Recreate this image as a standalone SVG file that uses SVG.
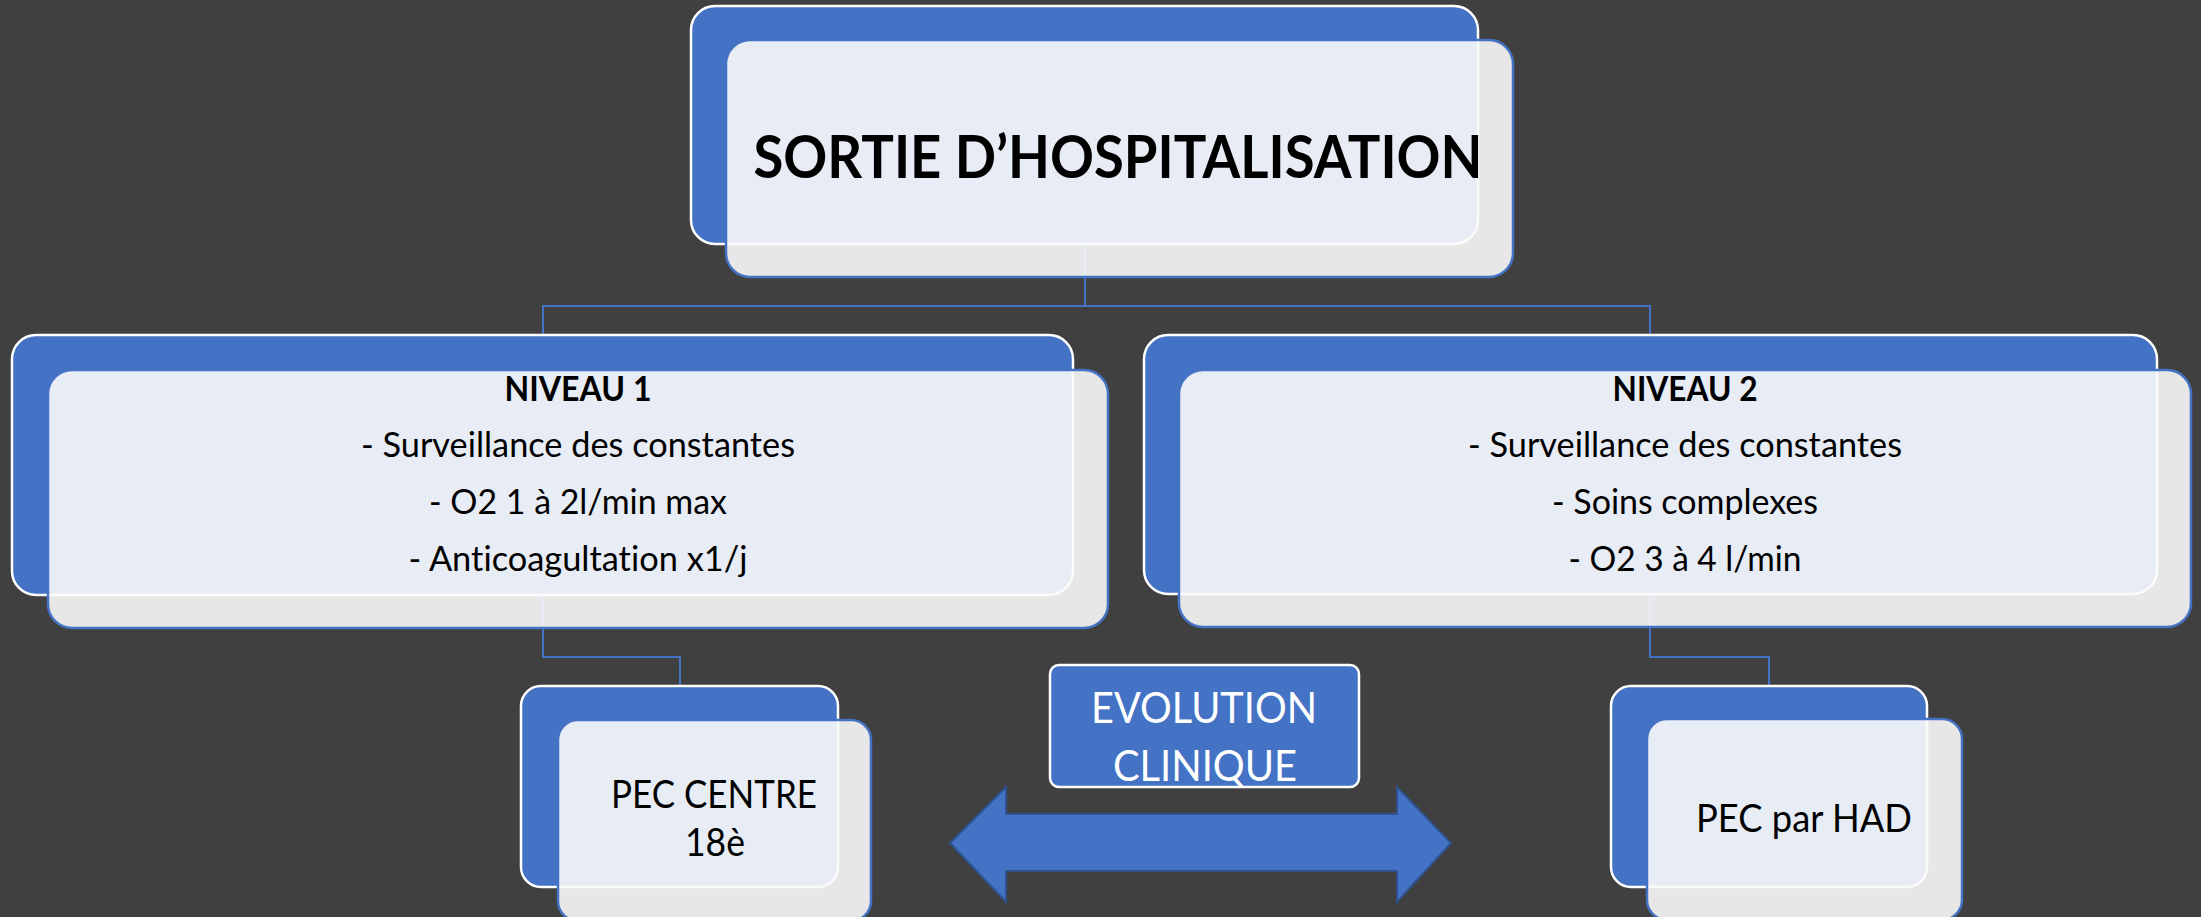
<svg xmlns="http://www.w3.org/2000/svg" width="2201" height="917" viewBox="0 0 2201 917">
  <style>
    .bg { fill: #404040; }
    .back { fill: #4472C4; stroke: #FFFFFF; stroke-width: 2.5; }
    .front { fill: #FBFBFB; fill-opacity: 0.895; stroke: #4472C4; stroke-width: 2.5; }
    .conn { fill: none; stroke: #4472C4; stroke-width: 2; }
    .t { font-family: Lato, "Liberation Sans", sans-serif; fill: #000000; text-anchor: middle; font-variant-ligatures: none; }
    .b { font-weight: bold; }
    .w { fill: #FFFFFF; }
  </style>
  <rect class="bg" x="0" y="0" width="2201" height="917"/>

  <g id="connectors">
    <path class="conn" d="M1085 244 V306 H543 V335"/>
    <path class="conn" d="M1085 306 H1650 V335"/>
    <path class="conn" d="M543 595 V657 H680 V686"/>
    <path class="conn" d="M1650 594 V657 H1769 V686"/>
  </g>

  <g id="node-sortie">
    <rect class="back" x="691" y="6" width="787" height="238" rx="24"/>
    <rect class="front" x="726" y="40" width="787" height="237" rx="24"/>
    <text class="t b" x="1118" y="178" font-size="60" textLength="729" lengthAdjust="spacingAndGlyphs">SORTIE D’HOSPITALISATION</text>
  </g>

  <g id="node-niveau1">
    <rect class="back" x="12" y="335" width="1061" height="260" rx="24"/>
    <rect class="front" x="48" y="370" width="1060" height="258" rx="24"/>
    <text class="t b" x="578" y="401" font-size="34" textLength="147" lengthAdjust="spacingAndGlyphs">NIVEAU 1</text>
    <text class="t" x="578" y="457" font-size="34" textLength="434" lengthAdjust="spacingAndGlyphs">- Surveillance des constantes</text>
    <text class="t" x="578" y="514" font-size="34" textLength="298" lengthAdjust="spacingAndGlyphs">- O2 1 à 2l/min max</text>
    <text class="t" x="578" y="571" font-size="34" textLength="339" lengthAdjust="spacingAndGlyphs">- Anticoagultation x1/j</text>
  </g>

  <g id="node-niveau2">
    <rect class="back" x="1144" y="335" width="1013" height="259" rx="24"/>
    <rect class="front" x="1179" y="370" width="1012" height="257" rx="24"/>
    <text class="t b" x="1685" y="401" font-size="34" textLength="145" lengthAdjust="spacingAndGlyphs">NIVEAU 2</text>
    <text class="t" x="1685" y="457" font-size="34" textLength="434" lengthAdjust="spacingAndGlyphs">- Surveillance des constantes</text>
    <text class="t" x="1685" y="514" font-size="34" textLength="266" lengthAdjust="spacingAndGlyphs">- Soins complexes</text>
    <text class="t" x="1685" y="571" font-size="34" textLength="233" lengthAdjust="spacingAndGlyphs">- O2 3 à 4 l/min</text>
  </g>

  <g id="node-pec-centre">
    <rect class="back" x="521" y="686" width="317" height="201" rx="20"/>
    <rect class="front" x="558" y="720" width="313" height="201" rx="20"/>
    <text class="t" x="714" y="808" font-size="39" textLength="206" lengthAdjust="spacingAndGlyphs">PEC CENTRE</text>
    <text class="t" x="715" y="856" font-size="39" textLength="60" lengthAdjust="spacingAndGlyphs">18è</text>
  </g>

  <g id="node-pec-had">
    <rect class="back" x="1611" y="686" width="316" height="201" rx="20"/>
    <rect class="front" x="1647" y="719" width="315" height="201" rx="20"/>
    <text class="t" x="1804" y="832" font-size="39" textLength="216" lengthAdjust="spacingAndGlyphs">PEC par HAD</text>
  </g>

  <g id="node-evolution">
    <rect x="1050" y="665" width="309" height="122" rx="9" fill="#4472C4" stroke="#FFFFFF" stroke-width="2.5"/>
    <text class="t w" x="1204" y="723" font-size="43" textLength="226" lengthAdjust="spacingAndGlyphs">EVOLUTION</text>
    <text class="t w" x="1205" y="781" font-size="43" textLength="184" lengthAdjust="spacingAndGlyphs">CLINIQUE</text>
  </g>

  <g id="arrow">
    <polygon points="950,843 1006,787 1006,814 1397,814 1397,787 1451,843 1397,902 1397,871 1006,871 1006,902" fill="#4472C4" stroke="#2F528F" stroke-width="2"/>
  </g>
</svg>
